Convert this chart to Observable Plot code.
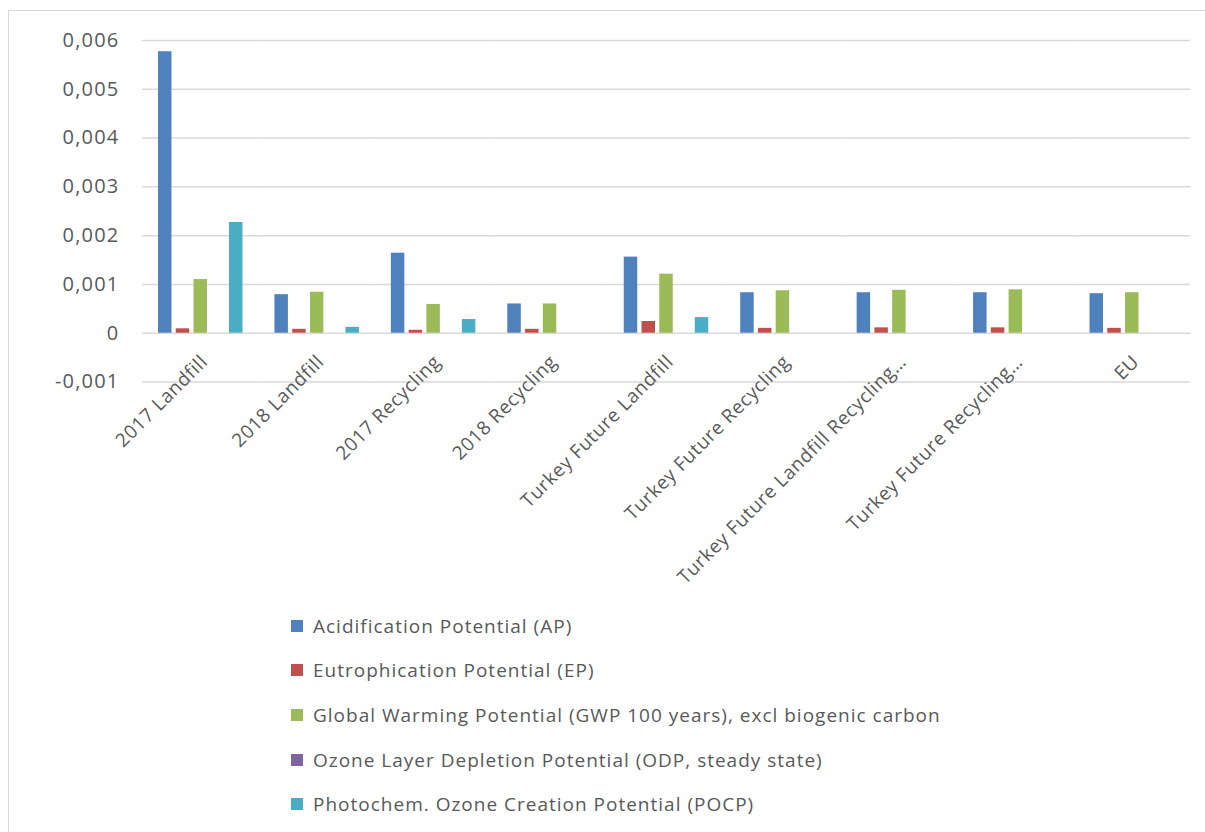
<!DOCTYPE html>
<html>
<head>
<meta charset="utf-8">
<script src="https://cdn.jsdelivr.net/npm/d3@7"></script>
<script src="https://cdn.jsdelivr.net/npm/@observablehq/plot@0.6"></script>
<style>
  html, body { margin: 0; padding: 0; background: #fff; overflow: hidden; }
  body { width: 1205px; height: 832px; position: relative; font-family: "Open Sans", sans-serif; }
  #frame { position: absolute; left: 8px; top: 10px; width: 1300px; height: 900px; border: 1.5px solid #d9d9d9; box-sizing: border-box; }
  #chart { position: absolute; left: 0; top: 0; }
  #legend { position: absolute; left: 291px; top: 0; }
  .row { position: absolute; left: 0; white-space: nowrap; font-size: 19px; letter-spacing: 1px; color: #595959; display: flex; align-items: center; height: 26px; }
  .sw { width: 12px; height: 12px; margin-right: 10px; display: inline-block; }
</style>
</head>
<body>
<div id="frame"></div>
<div id="chart"></div>
<div id="legend"></div>
<script>
const categories = [
  "2017 Landfill", "2018 Landfill", "2017 Recycling", "2018 Recycling",
  "Turkey Future Landfill", "Turkey Future Recycling",
  "Turkey Future Landfill Recycling…", "Turkey Future Recycling…", "EU"
];
const seriesNames = [
  "Acidification Potential (AP)",
  "Eutrophication Potential (EP)",
  "Global Warming Potential (GWP 100 years), excl biogenic carbon",
  "Ozone Layer Depletion Potential (ODP, steady state)",
  "Photochem. Ozone Creation Potential (POCP)"
];
const seriesColors = ["#4f81bd", "#c0504d", "#9bbb59", "#8064a2", "#4bacc6"];
const apValues   = [0.00577, 0.00079, 0.00164, 0.00060, 0.00156, 0.00083, 0.00083, 0.00083, 0.00081];
const epValues   = [0.00009, 0.00008, 0.00006, 0.00008, 0.00024, 0.00010, 0.00011, 0.00011, 0.00010];
const gwpValues  = [0.00110, 0.00084, 0.00059, 0.00060, 0.00121, 0.00087, 0.00088, 0.00089, 0.00083];
const odpValues  = [0, 0, 0, 0, 0, 0, 0, 0, 0];
const pocpValues = [0.00227, 0.00012, 0.00028, 0, 0.00032, 0, 0, 0, 0];
const yTicks = [-0.001, 0, 0.001, 0.002, 0.003, 0.004, 0.005, 0.006];

const valueSets = [apValues, epValues, gwpValues, odpValues, pocpValues];
const rows = [];
categories.forEach((c, i) => {
  seriesNames.forEach((s, j) => rows.push({category: c, series: s, value: valueSets[j][i]}));
});

const fmt = d => d === 0 ? "0" : d.toFixed(3).replace(".", ",");

const chart = Plot.plot({
  width: 1205,
  height: 600,
  marginLeft: 142,
  marginRight: 15,
  marginTop: 40,
  marginBottom: 218.5,
  style: {fontFamily: "Open Sans, sans-serif", fontSize: "20px", letterSpacing: "1.2px", color: "#595959", background: "transparent"},
  fx: {domain: categories, padding: 0, round: false, axis: null},
  x: {domain: seriesNames, paddingInner: 0.24, paddingOuter: 0.9, round: false, axis: null},
  y: {domain: [-0.001, 0.006], ticks: yTicks, tickFormat: fmt, tickSize: 0, tickPadding: 23, label: null},
  color: {domain: seriesNames, range: seriesColors},
  marks: [
    Plot.ruleY(yTicks, {stroke: "#d9d9d9", strokeWidth: 1.5}),
    Plot.barY(rows, {fx: "category", x: "series", y: "value", fill: "series"}),
    Plot.text(categories, {fx: d => d, text: d => d, frameAnchor: "bottom", rotate: -45, textAnchor: "end", dx: 8, dy: -19, fontSize: 19, fill: "#595959"})
  ]
});
document.getElementById("chart").appendChild(chart);
chart.querySelectorAll("text").forEach(t => {
  if (!t.closest("[aria-label='text']")) return;
  t.style.letterSpacing = "0.6px";
});

const legend = document.getElementById("legend");
const rowTops = [626, 670, 715, 760, 804];
seriesNames.forEach((s, i) => {
  const r = document.createElement("div");
  r.className = "row";
  r.style.top = (rowTops[i] - 13) + "px";
  r.innerHTML = `<span class="sw" style="background:${seriesColors[i]}"></span><span>${s}</span>`;
  legend.appendChild(r);
});
</script>
</body>
</html>
